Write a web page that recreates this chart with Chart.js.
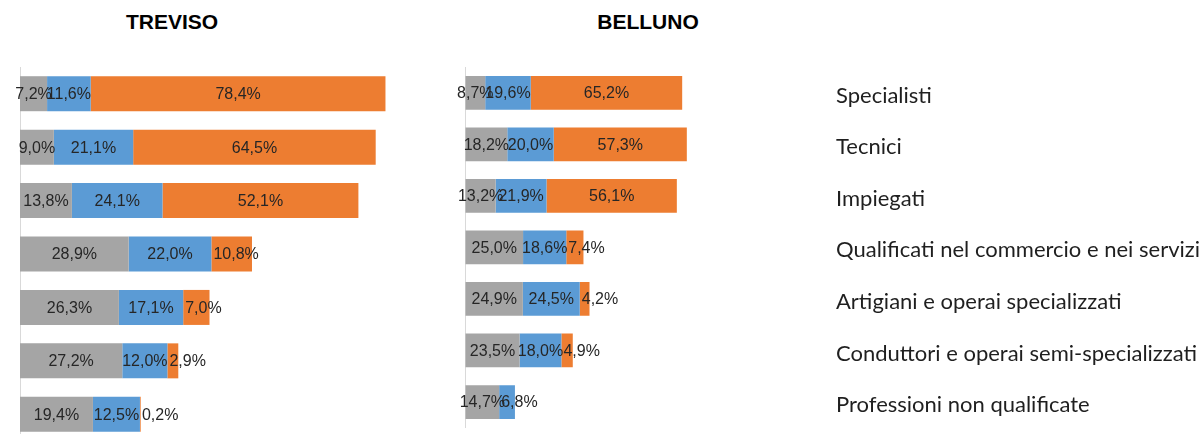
<!DOCTYPE html>
<html><head><meta charset="utf-8">
<script src="https://cdn.jsdelivr.net/npm/chart.js@4"></script>
<style>
html,body{margin:0;padding:0;background:#fff;width:1202px;height:434px;overflow:hidden;position:relative;}
.title{position:absolute;top:10px;line-height:21px;font:bold 21px "Liberation Sans",Arial,sans-serif;color:#000;transform:translateX(-50%);white-space:nowrap;}
canvas{position:absolute;top:0;}
</style></head><body>
<div class="title" style="left:172px">TREVISO</div>
<div class="title" style="left:648px">BELLUNO</div>
<canvas id="c1" width="400" height="445" style="left:0"></canvas>
<canvas id="c2" width="762" height="445" style="left:440px"></canvas>
<script>
const categories = ["Specialisti","Tecnici","Impiegati","Qualificati nel commercio e nei servizi","Artigiani e operai specializzati","Conduttori e operai semi-specializzati","Professioni non qualificate"];
const panelTitles = ["TREVISO","BELLUNO"];
const trevisoGray   = [7.2, 9.0, 13.8, 28.9, 26.3, 27.2, 19.4];
const trevisoBlue   = [11.6, 21.1, 24.1, 22.0, 17.1, 12.0, 12.5];
const trevisoOrange = [78.4, 64.5, 52.1, 10.8, 7.0, 2.9, 0.2];
const bellunoGray   = [8.7, 18.2, 13.2, 25.0, 24.9, 23.5, 14.7];
const bellunoBlue   = [19.6, 20.0, 21.9, 18.6, 24.5, 18.0, 6.8];
const bellunoOrange = [65.2, 57.3, 56.1, 7.4, 4.2, 4.9, null];

const COLORS = ['#A5A5A5','#5B9BD5','#ED7D31'];

const valueLabels = {
  id:'valueLabels',
  afterDatasetsDraw(chart){
    const ctx = chart.ctx;
    ctx.save();
    ctx.font = '16px "Liberation Sans", Arial, sans-serif';
    ctx.fillStyle = '#262626';
    ctx.textBaseline = 'middle';
    const dsets = chart.data.datasets;
    dsets.forEach((ds, di) => {
      const meta = chart.getDatasetMeta(di);
      meta.data.forEach((bar, i) => {
        const v = ds.data[i];
        if (v == null) return;
        let isLast = true;
        for (let k = di + 1; k < dsets.length; k++) if (dsets[k].data[i] != null) isLast = false;
        const txt = v.toFixed(1).replace('.', ',') + '%';
        const w = ctx.measureText(txt).width;
        const left = Math.min(bar.x, bar.base), right = Math.max(bar.x, bar.base);
        let x;
        if (isLast && di > 0 && w > right - left) { ctx.textAlign = 'left'; x = left + 2; }
        else { ctx.textAlign = 'center'; x = (left + right) / 2; if (x - w / 2 < 0) x = w / 2; }
        ctx.fillText(txt, x, bar.y + 1);
      });
    });
    ctx.restore();
  }
};

function makeChart(id, gray, blue, orange, padLeft, padRight, xMax, withLabels){
  const scales = {};
  if (withLabels) {
    scales.x = {type:'linear', stacked:true, min:0, max:xMax, display:true,
      grid:{display:true, drawTicks:false, lineWidth:1,
            color:(c) => (c.tick && c.tick.value === 0) ? '#D9D9D9' : 'rgba(0,0,0,0)'},
      border:{display:false}, ticks:{display:false, stepSize:50}};
    scales.y = {type:'category', stacked:true, position:'right', offset:true,
      grid:{display:false, drawTicks:false}, border:{display:false},
      ticks:{padding:4, labelOffset:3, color:'#1f1f1f', autoSkip:false, font:{family:'Lato', size:22}},
      afterFit(s){ s.width = 370; }};
  } else {
    scales.x = {type:'linear', stacked:true, min:0, max:xMax, display:false};
    scales.y = {type:'category', stacked:true, position:'left', offset:true,
      grid:{display:false, drawTicks:false},
      border:{display:true, color:'#D9D9D9', width:1},
      ticks:{display:false},
      afterFit(s){ s.width = 0; }};
  }
  return new Chart(document.getElementById(id), {
    type:'bar',
    data:{
      labels: categories,
      datasets:[
        {data:gray, backgroundColor:COLORS[0]},
        {data:blue, backgroundColor:COLORS[1]},
        {data:orange, backgroundColor:COLORS[2]}
      ]
    },
    options:{
      indexAxis:'y', responsive:false, animation:false,
      categoryPercentage:1, barPercentage:0.655,
      layout:{padding:{left:padLeft, right:padRight, top:67, bottom:4}},
      plugins:{legend:{display:false}, tooltip:{enabled:false}, title:{display:false}},
      scales
    },
    plugins:[valueLabels]
  });
}
makeChart('c1', trevisoGray, trevisoBlue, trevisoOrange, 20, 4, 100, false);
makeChart('c2', bellunoGray, bellunoBlue, bellunoOrange, 25, 0, 158, true);
</script>
</body></html>
